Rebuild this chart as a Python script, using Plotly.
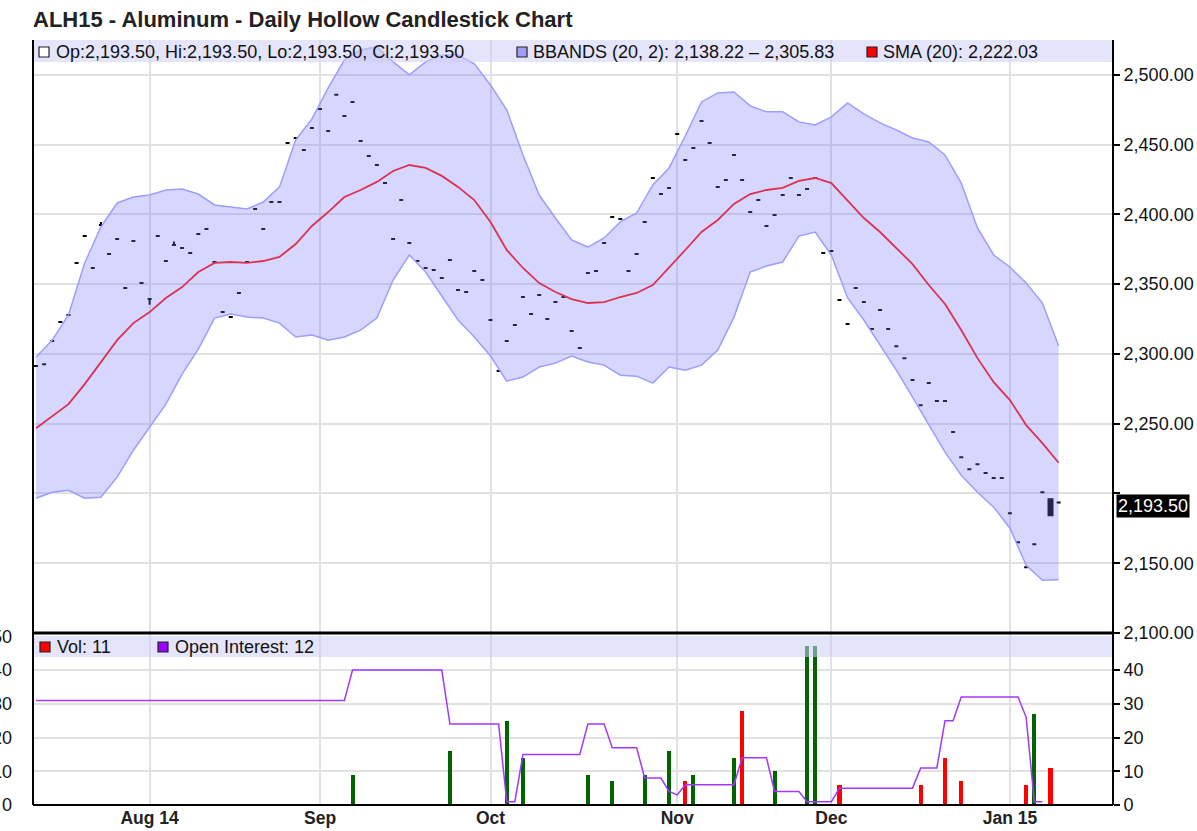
import pandas as pd
import plotly.graph_objects as go

FONT = "Liberation Sans"

# ---------------- data ----------------
holidays = ["2014-09-01", "2014-11-27", "2014-12-25", "2015-01-01"]
dates = [d for d in pd.bdate_range("2014-07-14", "2015-01-12")
         if d.strftime("%Y-%m-%d") not in holidays]

close = [
    2291.3, 2292.7, 2309.2, 2322.9, 2327.9, 2365.2, 2384.5, 2361.6, 2392.4, 2371.6,
    2382.4, 2347.2, 2380.9, 2350.8, 2339.3, 2384.5, 2366.6, 2378.1, 2375.9, 2372.3,
    2386.0, 2389.6, 2365.9, 2330.0, 2326.4, 2343.7, 2365.9, 2403.9, 2389.6, 2408.9,
    2408.9, 2451.2, 2454.8, 2446.2, 2462.0, 2475.6, 2459.8, 2485.7, 2470.6, 2480.6,
    2452.7, 2441.9, 2435.5, 2422.5, 2382.4, 2410.3, 2379.5, 2366.6, 2361.6, 2360.1,
    2354.4, 2367.3, 2345.8, 2344.4, 2359.4, 2353.0, 2324.3, 2287.7, 2309.2, 2320.7,
    2340.8, 2328.6, 2342.2, 2325.0, 2337.2, 2340.8, 2316.4, 2304.2, 2358.0, 2359.4,
    2379.5, 2398.2, 2396.7, 2359.4, 2371.6, 2394.6, 2426.1, 2414.7, 2419.0, 2457.7,
    2439.0, 2447.6, 2467.0, 2451.2, 2419.7, 2424.7, 2442.6, 2424.7, 2401.7, 2410.3,
    2391.7, 2399.6, 2413.9, 2426.1, 2413.9, 2418.2, 2426.1, 2372.3, 2373.8, 2338.6,
    2321.4, 2347.2, 2337.2, 2317.8, 2331.5, 2317.8, 2305.6, 2297.0, 2281.3, 2263.3,
    2279.1, 2266.2, 2266.2, 2244.0, 2226.0, 2217.4, 2221.0, 2214.6, 2211.0, 2211.0,
    2185.9, 2165.1, 2147.1, 2163.6, 2200.9, 2184.4, 2193.5,
]
open_overrides = {125: 2195.9}
high_overrides = {8: 2394.5, 17: 2380.5, 125: 2195.9}
low_overrides = {14: 2335.3, 125: 2184.4}

# Bollinger bands and SMA read at every second trading day
upper_band = [
    2297.7, 2309.9, 2327.9, 2365.2, 2391.0, 2408.2, 2412.5, 2413.9, 2417.5, 2418.2,
    2414.6, 2406.8, 2405.3, 2403.9, 2408.9, 2419.7, 2453.4, 2468.4, 2490.7, 2510.8,
    2517.9, 2520.1, 2509.3, 2500.0, 2509.3, 2514.3, 2514.3, 2507.9, 2492.8, 2474.9,
    2442.6, 2413.9, 2397.4, 2381.7, 2376.6, 2383.1, 2394.6, 2401.0, 2421.1, 2433.3,
    2456.2, 2480.6, 2487.1, 2487.8, 2477.8, 2473.5, 2473.5, 2466.3, 2464.1, 2469.9,
    2479.9, 2472.0, 2465.6, 2460.6, 2454.8, 2451.9, 2442.6, 2422.5, 2390.3, 2370.9,
    2362.3, 2350.8, 2336.5, 2305.8,
]
lower_band = [
    2196.6, 2200.9, 2202.3, 2196.6, 2197.3, 2211.7, 2231.0, 2247.5, 2264.0, 2285.5,
    2303.5, 2325.7, 2328.6, 2326.4, 2325.7, 2322.1, 2312.1, 2313.5, 2309.9, 2312.1,
    2317.1, 2325.7, 2353.0, 2370.9, 2358.7, 2341.5, 2324.3, 2312.1, 2298.5, 2280.5,
    2283.4, 2290.6, 2293.4, 2298.5, 2294.2, 2292.0, 2284.8, 2284.1, 2279.1, 2290.6,
    2288.4, 2292.0, 2302.8, 2326.4, 2358.7, 2363.0, 2365.9, 2384.5, 2387.4, 2370.9,
    2340.1, 2324.3, 2306.3, 2288.4, 2269.1, 2249.0, 2229.6, 2213.1, 2200.9, 2190.2,
    2175.1, 2148.6, 2137.8, 2138.2,
]
sma20 = [
    2246.8, 2255.4, 2264.0, 2278.4, 2294.2, 2309.9, 2322.1, 2330.0, 2340.1, 2347.9,
    2358.7, 2365.2, 2365.9, 2365.2, 2366.6, 2369.5, 2378.8, 2391.7, 2401.7, 2412.5,
    2417.5, 2423.3, 2431.1, 2435.4, 2433.3, 2427.6, 2419.7, 2410.3, 2394.6, 2374.5,
    2361.6, 2350.8, 2344.4, 2339.3, 2336.5, 2337.2, 2340.8, 2343.7, 2349.4, 2361.6,
    2374.5, 2387.4, 2396.0, 2407.5, 2414.6, 2417.5, 2419.0, 2424.0, 2426.1, 2422.5,
    2410.3, 2397.4, 2387.4, 2375.9, 2364.4, 2349.4, 2335.8, 2317.1, 2297.0, 2279.8,
    2266.9, 2249.0, 2236.1, 2222.0,
]

volume = [
    0, 0, 0, 0, 0, 0, 0, 0, 0, 0,
    0, 0, 0, 0, 0, 0, 0, 0, 0, 0,
    0, 0, 0, 0, 0, 0, 0, 0, 0, 0,
    0, 0, 0, 0, 0, 0, 0, 0, 0, 9,
    0, 0, 0, 0, 0, 0, 0, 0, 0, 0,
    0, 16, 0, 0, 0, 0, 0, 0, 25, 0,
    14, 0, 0, 0, 0, 0, 0, 0, 9, 0,
    0, 7, 0, 0, 0, 9, 0, 0, 16, 0,
    7, 9, 0, 0, 0, 0, 14, 28, 0, 0,
    0, 10, 0, 0, 0, 47, 47, 0, 0, 6,
    0, 0, 0, 0, 0, 0, 0, 0, 0, 6,
    0, 0, 14, 0, 7, 0, 0, 0, 0, 0,
    0, 0, 6, 27, 0, 11, 0,
]
open_interest = [
    31, 31, 31, 31, 31, 31, 31, 31, 31, 31,
    31, 31, 31, 31, 31, 31, 31, 31, 31, 31,
    31, 31, 31, 31, 31, 31, 31, 31, 31, 31,
    31, 31, 31, 31, 31, 31, 31, 31, 31, 40,
    40, 40, 40, 40, 40, 40, 40, 40, 40, 40,
    40, 24, 24, 24, 24, 24, 24, 24, 1, 1,
    15, 15, 15, 15, 15, 15, 15, 15, 24, 24,
    24, 17, 17, 17, 17, 8, 8, 8, 4, 3,
    6, 6, 6, 6, 6, 6, 6, 14, 14, 14,
    14, 4, 4, 4, 4, 1, 1, 1, 1, 5,
    5, 5, 5, 5, 5, 5, 5, 5, 5, 11,
    11, 11, 25, 25, 32, 32, 32, 32, 32, 32,
    32, 32, 26, 1, 1,
]

month_labels = ["Aug 14", "Sep", "Oct", "Nov", "Dec", "Jan 15"]
price_ticks = [2100, 2150, 2200, 2250, 2300, 2350, 2400, 2450, 2500]
vol_ticks = [0, 10, 20, 30, 40]
vol_ticks_left = [0, 10, 20, 30, 40, 50]

title_text = "ALH15 - Aluminum - Daily Hollow Candlestick Chart"
ohlc_text = "Op:2,193.50, Hi:2,193.50, Lo:2,193.50, Cl:2,193.50"
bb_text = "BBANDS (20, 2): 2,138.22 \u2013 2,305.83"
sma_text = "SMA (20): 2,222.03"
vol_text = "Vol: 11"
oi_text = "Open Interest: 12"
last_text = "2,193.50"
last_price = 2193.5

# ---------------- derived ----------------
n = len(close)
xi = list(range(n))
open_ = [open_overrides.get(i, c) for i, c in enumerate(close)]
high = [high_overrides.get(i, c) for i, c in enumerate(close)]
low = [low_overrides.get(i, c) for i, c in enumerate(close)]
band_x = xi[::2]

month_ticks = []
seen = set()
for i, d in enumerate(dates):
    key = (d.year, d.month)
    if key not in seen:
        seen.add(key)
        if i > 0:
            month_ticks.append(i)

vol_colors = []
for i in range(n):
    up = i > 0 and close[i] > close[i - 1]
    vol_colors.append("#006400" if up else "#ff0000")

# ---------------- geometry ----------------
W, H = 1197, 831
ML, MR, MT, MB = 33, 84, 40, 26
PW = W - ML - MR
PH = H - MT - MB


def px_x(px):
    return (px - ML) / PW


def px_y(py):
    return (H - MB - py) / PH


split = px_y(633)

GRID = "#e1e1e1"
BAND_LINE = "#9d9dff"
BAND_FILL = "rgba(120,120,255,0.30)"
SMA_COL = "#dc3250"
OI_COL = "#a238ff"
STRIP = "rgba(205,205,248,0.55)"

fig = go.Figure()

# bands
fig.add_trace(go.Scatter(x=band_x, y=upper_band, mode="lines",
                         line=dict(color=BAND_LINE, width=1.5),
                         hoverinfo="skip", showlegend=False))
fig.add_trace(go.Scatter(x=band_x, y=lower_band, mode="lines",
                         line=dict(color=BAND_LINE, width=1.5),
                         fill="tonexty", fillcolor=BAND_FILL,
                         hoverinfo="skip", showlegend=False))
fig.add_trace(go.Scatter(x=band_x, y=sma20, mode="lines",
                         line=dict(color=SMA_COL, width=1.8),
                         hoverinfo="skip", showlegend=False))

# candles
fig.add_trace(go.Candlestick(
    x=xi, open=open_, high=high, low=low, close=close,
    increasing=dict(line=dict(color="black", width=2), fillcolor="rgba(0,0,0,0)"),
    decreasing=dict(line=dict(color="black", width=2), fillcolor="black"),
    whiskerwidth=0, showlegend=False, hoverinfo="skip"))

# volume panel
fig.add_trace(go.Scatter(x=xi[:len(open_interest)], y=open_interest, mode="lines",
                         line=dict(color=OI_COL, width=1.5), yaxis="y2",
                         hoverinfo="skip", showlegend=False))
fig.add_trace(go.Bar(x=xi, y=volume, marker=dict(color=vol_colors, line=dict(width=0)),
                     width=0.5, yaxis="y2", hoverinfo="skip", showlegend=False))
fig.add_trace(go.Scatter(x=[0], y=[0], mode="markers", marker=dict(opacity=0),
                         yaxis="y3", hoverinfo="skip", showlegend=False))

tick_font = dict(family=FONT, size=18, color="#111")

fig.update_layout(
    width=W, height=H,
    margin=dict(l=ML, r=MR, t=MT, b=MB, autoexpand=False),
    paper_bgcolor="white", plot_bgcolor="white",
    bargap=0,
    title=dict(text=title_text, x=ML / W, xanchor="left", y=1 - 19 / H, yanchor="middle",
               font=dict(family=FONT, size=22, color="#222", weight="bold")),
    xaxis=dict(range=[-0.37, 132.7], tickvals=month_ticks, ticktext=month_labels,
               showgrid=True, gridcolor=GRID, gridwidth=2, zeroline=False,
               ticks="", showline=False, anchor="y2", automargin=False,
               tickfont=dict(family=FONT, size=17.5, color="#222", weight="bold"),
               rangeslider=dict(visible=False)),
    yaxis=dict(domain=[split, 1], range=[2100, 2525], side="right",
               tickvals=price_ticks,
               ticktext=["" if v == 2200 else f"{v:,.2f}" for v in price_ticks],
               showgrid=True, gridcolor=GRID, gridwidth=2, zeroline=False,
               ticks="outside", ticklen=6, tickcolor="black", tickwidth=1.5,
               tickfont=tick_font, anchor="x", automargin=False),
    yaxis2=dict(domain=[0, split], range=[0, 51], side="right",
                tickvals=vol_ticks, showgrid=True, gridcolor=GRID, gridwidth=2,
                zeroline=False, ticks="outside", ticklen=6, tickcolor="black",
                tickwidth=1.5, tickfont=tick_font, anchor="x", automargin=False),
    yaxis3=dict(overlaying="y2", range=[0, 51], side="left", tickvals=vol_ticks_left,
                showgrid=False, zeroline=False, ticks="", ticklabelstandoff=20,
                tickfont=tick_font, anchor="x", automargin=False),
)

shapes = []
# legend strips
shapes.append(dict(type="rect", xref="paper", yref="paper", x0=0, x1=1,
                   y0=px_y(62), y1=px_y(40), fillcolor=STRIP, line=dict(width=0),
                   layer="above"))
shapes.append(dict(type="rect", xref="paper", yref="paper", x0=0, x1=1,
                   y0=px_y(657), y1=px_y(636), fillcolor=STRIP, line=dict(width=0),
                   layer="above"))
# frame lines
shapes.append(dict(type="line", xref="paper", yref="paper", x0=0, x1=0, y0=0, y1=1,
                   line=dict(color="black", width=2), layer="above"))
shapes.append(dict(type="line", xref="paper", yref="paper", x0=1, x1=1, y0=0, y1=1,
                   line=dict(color="black", width=2), layer="above"))
shapes.append(dict(type="line", xref="paper", yref="paper", x0=0, x1=1, y0=0, y1=0,
                   line=dict(color="black", width=2), layer="above"))
shapes.append(dict(type="line", xref="paper", yref="paper", x0=0, x1=1, y0=split, y1=split,
                   line=dict(color="black", width=3), layer="above"))


def square(x_px, y_px, fill, border="#222"):
    return dict(type="rect", xref="paper", yref="paper",
                x0=px_x(x_px), x1=px_x(x_px + 10), y0=px_y(y_px + 5), y1=px_y(y_px - 5),
                fillcolor=fill, line=dict(color=border, width=1.2), layer="above")


shapes.append(square(39, 52, "white"))
shapes.append(square(517, 52, "#a0a0f4"))
shapes.append(square(867, 52, "#ff0000"))
shapes.append(square(40, 647, "#ff0000"))
shapes.append(square(158, 647, "#9900ff"))
fig.update_layout(shapes=shapes)

leg_font = dict(family=FONT, size=18, color="#111")


def label(x_px, y_px, text):
    return dict(xref="paper", yref="paper", x=px_x(x_px), y=px_y(y_px), text=text,
                showarrow=False, xanchor="left", yanchor="middle", font=leg_font)


annotations = [
    label(54, 52, ohlc_text),
    label(531, 52, bb_text),
    label(881, 52, sma_text),
    label(55, 647, vol_text),
    label(173, 647, oi_text),
    dict(xref="paper", yref="y", x=1, y=last_price, xanchor="left", yanchor="middle",
         xshift=3, yshift=-3, text=last_text, showarrow=False, bgcolor="black",
         borderpad=1, font=dict(family=FONT, size=18, color="white")),
]
fig.update_layout(annotations=annotations)

fig.write_html("out.html", config={"displayModeBar": False},
               post_script="document.body.style.margin='0';")
